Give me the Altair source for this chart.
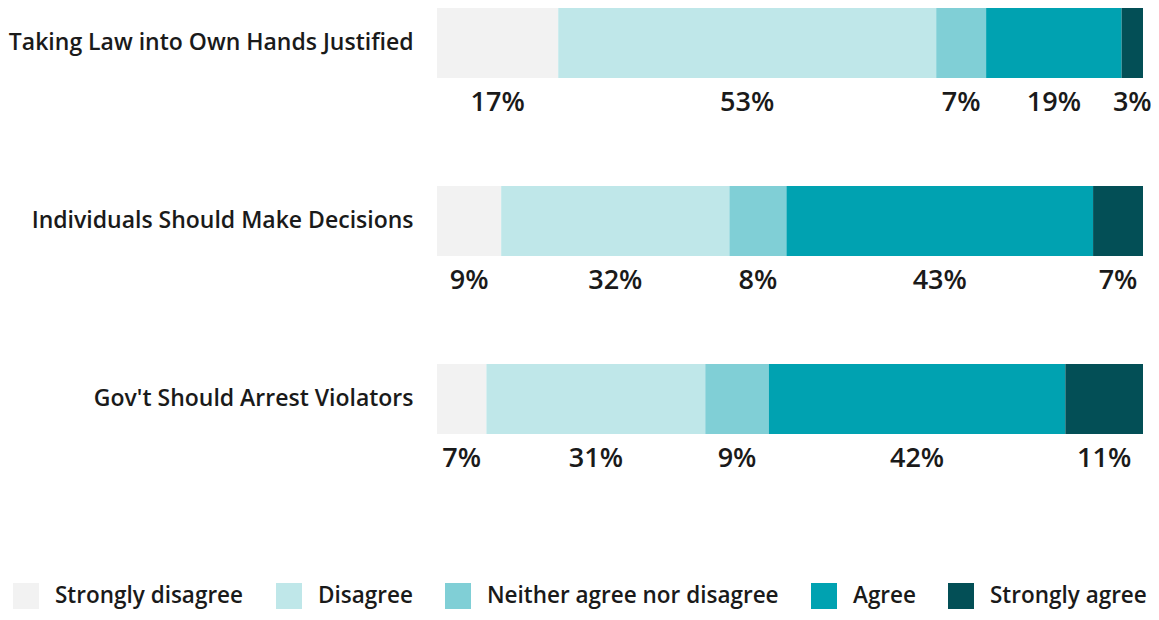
import altair as alt
import pandas as pd

questions = [
    "Taking Law into Own Hands Justified",
    "Individuals Should Make Decisions",
    "Gov't Should Arrest Violators",
]
responses = [
    "Strongly disagree",
    "Disagree",
    "Neither agree nor disagree",
    "Agree",
    "Strongly agree",
]
colors = ["#f2f2f2", "#bfe7e9", "#80cfd6", "#00a2b1", "#034f56"]

q1_values = [17, 53, 7, 19, 3]
q2_values = [9, 32, 8, 43, 7]
q3_values = [7, 31, 9, 42, 11]

rows = []
for q, vals in zip(questions, [q1_values, q2_values, q3_values]):
    for i, (r, v) in enumerate(zip(responses, vals)):
        rows.append({"question": q, "response": r, "order": i, "value": v,
                     "label": f"{v}%"})
df = pd.DataFrame(rows)

FONT = "Open Sans"

base = (
    alt.Chart(df)
    .transform_stack(
        stack="value",
        as_=["x0", "x1"],
        groupby=["question"],
        sort=[alt.SortField("order", order="ascending")],
        offset="normalize",
    )
    .transform_calculate(mid="(datum.x0 + datum.x1) / 2")
)

yenc = alt.Y(
    "question:N",
    sort=questions,
    scale=alt.Scale(paddingInner=0.6067, paddingOuter=0, align=0, round=False),
    axis=alt.Axis(
        title=None, domain=False, ticks=False, tickSize=0, labelPadding=24,
        labelFont=FONT, labelFontSize=23, labelFontWeight=600,
        labelColor="#1a1a1a", labelLimit=0,
    ),
)

bars = base.mark_bar().encode(
    x=alt.X("x0:Q", scale=alt.Scale(domain=[0, 1], nice=False, zero=False), axis=None),
    x2="x1:Q",
    y=yenc,
    color=alt.Color(
        "response:N",
        sort=responses,
        scale=alt.Scale(domain=responses, range=colors),
        legend=alt.Legend(
            title=None, orient="none", legendX=-424, legendY=575,
            direction="horizontal", symbolType="square", symbolSize=676,
            symbolStrokeWidth=0, symbolOpacity=1, labelOffset=16,
            columnPadding=32, labelFont=FONT, labelFontSize=22.5,
            labelFontWeight=600, labelColor="#1a1a1a", labelLimit=0,
            padding=0,
        ),
    ),
)

texts = base.mark_text(
    dy=60, font=FONT, fontSize=27, fontWeight=600, color="#1a1a1a",
    baseline="middle", align="center",
).encode(
    x=alt.X("mid:Q"),
    y=alt.Y("question:N", sort=questions),
    text="label:N",
)

chart = (
    alt.layer(bars, texts)
    .properties(
        width=706, height=426,
        autosize=alt.AutoSizeParams(type="none"),
        padding={"left": 429, "top": 0, "right": 8, "bottom": 178},
    )
    .configure_view(stroke=None)
)

chart.save("out.html", embed_options={"renderer": "svg", "actions": False})
